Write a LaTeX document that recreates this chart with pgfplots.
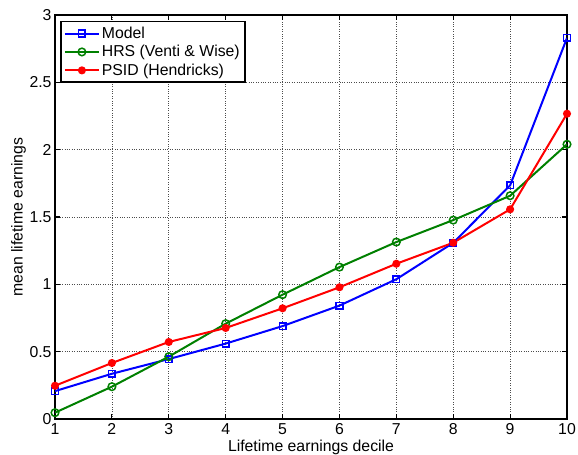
\documentclass[border=0pt]{standalone}
\usepackage{pgfplots}
\pgfplotsset{compat=1.18}
\usepackage{fontspec}
\setmainfont{Liberation Sans}
\definecolor{mblue}{rgb}{0,0,1}
\definecolor{mgreen}{rgb}{0,0.5,0}
\definecolor{mred}{rgb}{1,0,0}
\begin{document}
\begin{tikzpicture}
\begin{axis}[
  scale only axis, width=512bp, height=404bp,
  xmin=1, xmax=10, ymin=0, ymax=3,
  xtick={1,2,3,4,5,6,7,8,9,10},
  ytick={0,0.5,1,1.5,2,2.5,3},
  yticklabels={0,0.5,1,1.5,2,2.5,3},
  xticklabels={1,2,3,4,5,6,7,8,9,10},
  tick align=inside, major tick length=5bp,
  every tick/.style={black, line width=1.2bp},
  grid=major,
  grid style={dotted, black!70, line width=0.7bp},
  axis line style={line width=2bp},
  /pgf/number format/assume math mode=true,
  tick label style={font=\fontsize{15.8bp}{18bp}\selectfont},
  xticklabel style={yshift=-1bp},
  label style={font=\fontsize{15.8bp}{18bp}\selectfont},
  xlabel={Lifetime earnings decile},
  ylabel={mean lifetime earnings},
  xlabel style={at={(axis description cs:0.5,0)}, anchor=north, inner sep=0pt, yshift=-21bp},
  ylabel style={at={(axis description cs:-0.0713,0.5)}, anchor=center},
  legend style={at={(axis description cs:0.0098,0.986)}, anchor=north west,
    draw=black, line width=1.8bp, fill=white,
    font=\fontsize{15.8bp}{18bp}\selectfont,
    inner xsep=3bp, inner ysep=3.5bp, row sep=1.5bp},
  legend cell align=left,
  legend image code/.code={
    \draw[#1] (0bp,0bp) -- (34bp,0bp);
    \draw[#1, only marks] plot coordinates {(17bp,0bp)};
  },
]
\addplot[mblue, line width=2bp, mark=square, mark size=3.3bp, mark options={solid, line width=1.5bp}]
  coordinates {(1,0.207) (2,0.336) (3,0.445) (4,0.560) (5,0.690) (6,0.842) (7,1.038) (8,1.308) (9,1.735) (10,2.830)};
\addlegendentry{Model}
\addplot[mgreen, line width=2bp, mark=o, mark size=3.8bp, mark options={solid, line width=1.5bp}]
  coordinates {(1,0.047) (2,0.240) (3,0.463) (4,0.708) (5,0.923) (6,1.128) (7,1.314) (8,1.477) (9,1.658) (10,2.040)};
\addlegendentry{HRS (Venti \& Wise)}
\addplot[mred, line width=2bp, mark=*, mark size=3bp, mark options={solid}]
  coordinates {(1,0.247) (2,0.416) (3,0.572) (4,0.676) (5,0.822) (6,0.978) (7,1.153) (8,1.309) (9,1.557) (10,2.267)};
\addlegendentry{PSID (Hendricks)}
\end{axis}
\pgfresetboundingbox
\path[use as bounding box] ([shift={(-55bp,-35bp)}]current axis.south west) rectangle ([shift={(11bp,15bp)}]current axis.north east);
\end{tikzpicture}
\end{document}
